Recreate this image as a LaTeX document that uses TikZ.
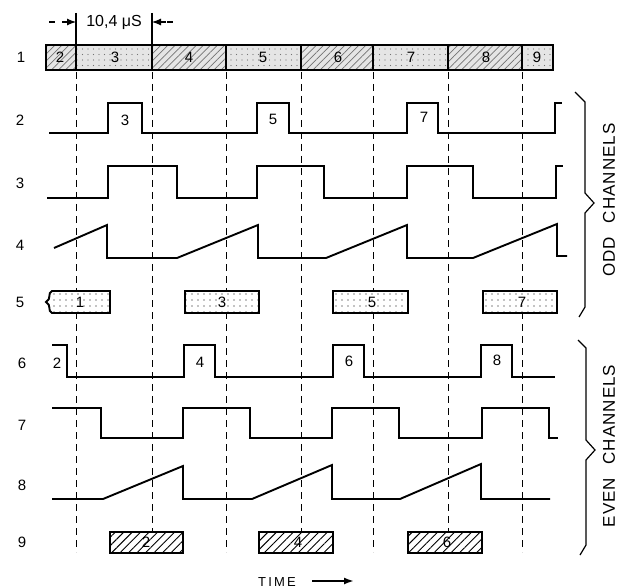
\documentclass[tikz,border=0pt]{standalone}
\usepackage{fontspec}
\setmainfont{Liberation Sans}
\newfontfamily\chanfont[LetterSpace=6]{Liberation Sans}
\usetikzlibrary{patterns.meta,arrows.meta}
\begin{document}
\begin{tikzpicture}[x=1pt,y=-1pt,
  wave/.style={line width=1.9pt, line join=miter, line cap=butt},
  gridline/.style={line width=0.9pt, dash pattern=on 7pt off 5pt},
  boxline/.style={line width=1.9pt},
  lbl/.style={font=\fontsize{15}{17}\selectfont, inner sep=0pt},
  hatchbar/.style={pattern={Lines[angle=45,distance=5pt,line width=0.7pt]}, pattern color=black!55},
  dotbar/.style={pattern={Dots[radius=0.6pt,distance=5.5pt]}, pattern color=black!55},
  hatchbox/.style={boxline, preaction={fill=white}, pattern={Lines[angle=45,distance=6pt,line width=0.9pt]}},
  dotbox/.style={boxline, preaction={fill=white}, pattern={Dots[radius=0.65pt,distance=6pt]}},
  chan/.style={font=\chanfont\fontsize{17}{19}\selectfont, rotate=90, inner sep=0pt},
  brace/.style={line width=1.2pt}]
\useasboundingbox (0,0) rectangle (618,588);

% dimension marks
\draw[line width=1.1pt] (76,13) -- (76,45);
\draw[line width=1.1pt] (152,13) -- (152,45);
\draw[line width=1.1pt] (49,22) -- (55,22);
\draw[line width=1.1pt,-{Latex[length=9pt,width=7pt]}] (62,22) -- (76,22);
\draw[line width=1.1pt] (167,22) -- (173,22);
\draw[line width=1.1pt,-{Latex[length=9pt,width=7pt]}] (166,22) -- (152,22);
\node[lbl, font=\fontsize{16}{18}\selectfont] (dim) at (114,22) {10,4 μS};

% time bar
\fill[black!10] (46,45) rectangle (553,70);
\foreach \a/\b in {46/76,152/226,301/373,448/522}
  \path[hatchbar] (\a,45) rectangle (\b,70);
\foreach \a/\b in {76/152,226/301,373/448,522/553}
  \path[dotbar] (\a,45) rectangle (\b,70);
\draw[boxline] (46,45) rectangle (553,70);
\foreach \x in {76,152,226,301,373,448,522}
  \draw[line width=1.3pt] (\x,45) -- (\x,70);
\foreach \t/\x in {2/60,3/115,4/189,5/263,6/338,7/411,8/486,9/537}
  \node[lbl] (bar\t) at (\x,57) {\t};

% dashed time grid
\foreach \x in {76,152,226,301,373,448,522}
  \draw[gridline] (\x,72) -- (\x,552);

% row labels
\foreach \n/\x/\y in {1/21/57,2/20/120,3/20/183,4/20/245,5/20/302,6/22/363,7/22/425,8/22/485,9/22/542}
  \node[lbl] (row\n) at (\x,\y) {\n};

% row 2
\draw[wave] (49,133) -- (108,133) -- (108,103) -- (142,103) -- (142,133) -- (257,133) -- (257,103) -- (289,103) -- (289,133) -- (407,133) -- (407,103) -- (438,103) -- (438,133) -- (555,133) -- (555,103) -- (562,103);
\node[lbl] (p3) at (125,120) {3};
\node[lbl] (p5) at (273,119) {5};
\node[lbl] (p7) at (424,117) {7};

% row 3
\draw[wave] (47,198) -- (108,198) -- (108,166) -- (177,166) -- (177,198) -- (257,198) -- (257,166) -- (324,166) -- (324,198) -- (407,198) -- (407,166) -- (473,166) -- (473,198) -- (556,198) -- (556,166) -- (563,166);

% row 4
\draw[wave] (54,248) -- (107,225) -- (107,258) -- (177,258) -- (258,225) -- (258,258) -- (326,258) -- (407,225) -- (407,258) -- (473,258) -- (557,224) -- (557,256) -- (567,256);

% row 5
\draw[dotbox] (52,291) -- (110,291) -- (110,313) -- (52,313) .. controls (47,311) and (52,305) .. (46,302) .. controls (52,299) and (47,293) .. (52,291) -- cycle;
\draw[dotbox] (185,291) rectangle (259,313);
\draw[dotbox] (333,291) rectangle (408,313);
\draw[dotbox] (483,291) rectangle (557,313);
\node[lbl] (o1) at (80,302) {1};
\node[lbl] (o3) at (222,302) {3};
\node[lbl] (o5) at (372,302) {5};
\node[lbl] (o7) at (522,302) {7};

% row 6
\draw[wave] (52,345) -- (67,345) -- (67,377) -- (184,377) -- (184,345) -- (215,345) -- (215,377) -- (333,377) -- (333,345) -- (364,345) -- (364,377) -- (481,377) -- (481,345) -- (512,345) -- (512,377) -- (555,377);
\node[lbl] (q2) at (57,363) {2};
\node[lbl] (q4) at (200,362) {4};
\node[lbl] (q6) at (349,361) {6};
\node[lbl] (q8) at (497,360) {8};

% row 7
\draw[wave] (52,408) -- (101,408) -- (101,438) -- (183,438) -- (183,408) -- (250,408) -- (250,438) -- (332,438) -- (332,408) -- (399,408) -- (399,438) -- (482,438) -- (482,408) -- (549,408) -- (549,438) -- (558,438);

% row 8
\draw[wave] (52,499) -- (103,499) -- (183,466) -- (183,499) -- (252,499) -- (332,465) -- (332,499) -- (400,499) -- (481,464) -- (481,499) -- (550,499);

% row 9
\draw[hatchbox] (110,532) rectangle (183,553);
\draw[hatchbox] (259,532) rectangle (333,553);
\draw[hatchbox] (408,532) rectangle (482,553);
\node[lbl] (e2) at (146,542) {2};
\node[lbl] (e4) at (298,542) {4};
\node[lbl] (e6) at (447,542) {6};

% braces
\draw[brace] (575,92) -- (585,102) -- (585,193) -- (594,203) -- (585,213) -- (585,307) -- (579,317);
\draw[brace] (578,340) -- (586,348) -- (586,440) -- (595,450) -- (586,460) -- (586,545) -- (580,555);
\node[chan] (odd) at (609,200) {ODD\hspace{0.8em}CHANNELS};
\node[chan] (even) at (609,446) {EVEN\hspace{0.8em}CHANNELS};

% time
\node[lbl, font=\fontsize{13}{15}\selectfont] (time) at (277,582) {T\,I\,M\,E};
\coordinate (ta) at (312,581);
\coordinate (tb) at (354,581);
\draw[line width=1.8pt,-{Latex[length=10pt,width=7pt]}] (ta) -- (tb);
\end{tikzpicture}
\end{document}
